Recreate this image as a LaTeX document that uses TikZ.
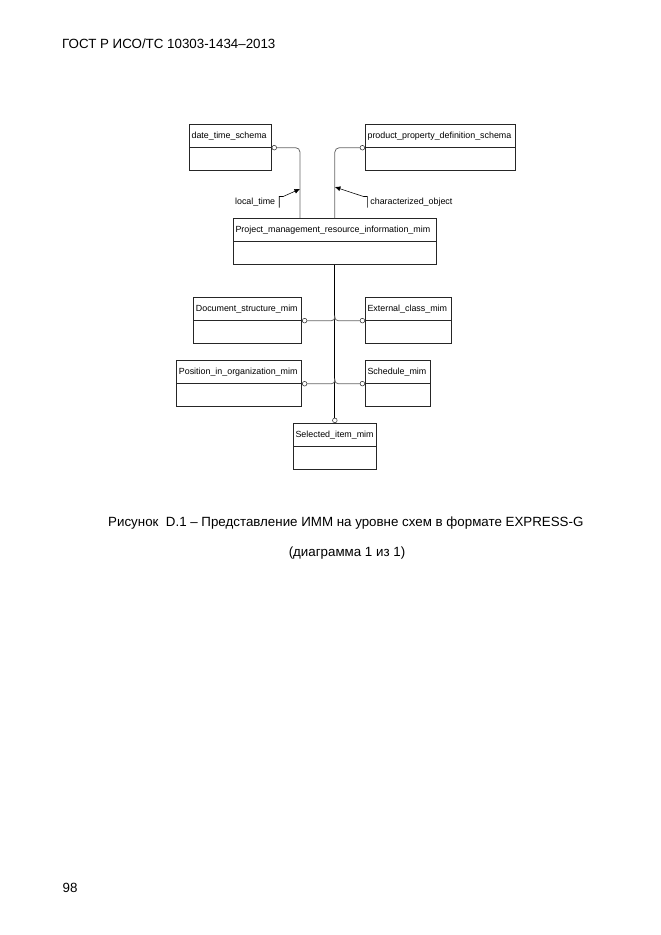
\documentclass[tikz,border=0pt]{standalone}
\usepackage{fontspec}
\setmainfont{Liberation Sans}
\usetikzlibrary{arrows.meta,positioning,calc,shapes.multipart}

\begin{document}
\begin{tikzpicture}[
  x=0.9pt, y=-0.9pt,
  font=\fontsize{8}{9.6}\selectfont,
  box/.style={draw=black!85, line width=0.6pt, rectangle split, rectangle split parts=2,
    text width=#1, align=left, inner xsep=2pt, inner ysep=6.5pt,
    rectangle split empty part height=5.5pt, rectangle split empty part depth=1.5pt},
  ring/.style={circle, draw=black!80, line width=0.5pt, fill=white, inner sep=0pt, minimum size=4.2pt},
  link/.style={draw=black!60, line width=0.7pt, rounded corners=4pt},
  trunk/.style={draw=black, line width=0.8pt},
  lbl/.style={inner xsep=1.5pt, inner ysep=1pt, text height=5.8pt, text depth=1.7pt},
  reflink/.style={draw=black, line width=0.5pt, -{Latex[length=5pt,width=4.5pt]}},
  page/.style={font=\fontsize{12}{14.4}\selectfont, inner sep=0pt}
]
  \useasboundingbox (0,0) rectangle (661,935);

  % page texts
  \node[page, anchor=base west] (hdr) at (62,48) {ГОСТ Р ИСО/ТС 10303-1434–2013};
  \node[page, anchor=base west] (cap) at (108,526) {Рисунок\ \ D.1 – Представление ИММ на уровне схем в формате EXPRESS-G};
  \node[page, anchor=base] (cap2) at (347,556) {(диаграмма 1 из 1)};
  \node[page, anchor=base west] (pgno) at (62.5,892) {98};

  % schemas
  \node[box=69.8pt, anchor=north west] (dts) at (189,124) {date\_time\_schema};
  \node[box=131pt, anchor=north west] (ppds) at (365,124) {product\_property\_definition\_schema};
  \node[box=178.7pt, anchor=north west] (pmri) at (233,218) {Project\_management\_resource\_information\_mim};
  \node[box=93.2pt, anchor=north east] (dsm) at (302,297) {Document\_structure\_mim};
  \node[box=73.4pt, anchor=north west] (ecm) at (365,297) {External\_class\_mim};
  \node[box=108.5pt, anchor=north east] (pio) at (302,360) {Position\_in\_organization\_mim};
  \node[box=54.5pt, anchor=north west] (sch) at (365,360) {Schedule\_mim};
  \node[box=70.7pt, anchor=north] (sim) at (pmri.south |- 0,423) {Selected\_item\_mim};

  % interface circles
  \node[ring, right=0pt of dts.text split east] (r-dts) {};
  \node[ring, left=0pt of ppds.text split west] (r-ppds) {};
  \node[ring, right=0pt of dsm.text split east] (r-dsm) {};
  \node[ring, left=0pt of ecm.text split west] (r-ecm) {};
  \node[ring, right=0pt of pio.text split east] (r-pio) {};
  \node[ring, left=0pt of sch.text split west] (r-sch) {};
  \node[ring, above=0pt of sim.north] (r-sim) {};

  % links
  \draw[link] (r-dts.east) -| ([xshift=60.3pt]pmri.north west);
  \draw[link] (r-ppds.west) -| (pmri.north);
  \draw[trunk] (pmri.south) -- (r-sim.north);
  \draw[link, rounded corners=3pt] (r-dsm.east) -| ($(r-dsm.east -| pmri.south)+(0,-5)$);
  \draw[link, rounded corners=3pt] (r-ecm.west) -| ($(r-ecm.west -| pmri.south)+(0,-5)$);
  \draw[link, rounded corners=3pt] (r-pio.east) -| ($(r-pio.east -| pmri.south)+(0,-5)$);
  \draw[link, rounded corners=3pt] (r-sch.west) -| ($(r-sch.west -| pmri.south)+(0,-5)$);

  % reference labels
  \node[lbl, anchor=east] (lt) at (277,202) {local\_time};
  \node[lbl, anchor=west] (co) at (368.5,202) {characterized\_object};
  \coordinate (lt-tip) at ([xshift=60.3pt]pmri.north west |- 0,189);
  \coordinate (co-tip) at (pmri.north |- 0,187);
  \draw[reflink] ([xshift=2pt]lt.south east) -- ([xshift=2pt]lt.north east) -- ++(4,0) -- (lt-tip);
  \draw[reflink] ([xshift=-1pt]co.south west) -- ([xshift=-1pt]co.north west) -- ++(-4,0) -- (co-tip);
\end{tikzpicture}
\end{document}
